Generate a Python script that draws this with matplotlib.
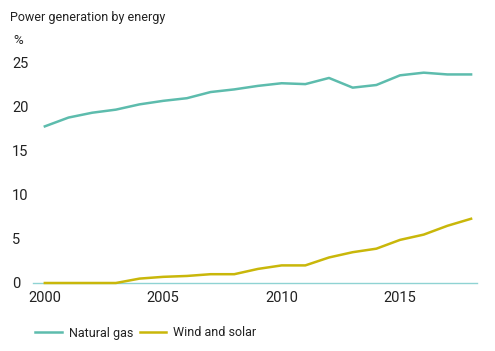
import matplotlib.pyplot as plt
from matplotlib import font_manager

years = list(range(2000, 2019))
natural_gas = [17.8, 18.8, 19.35, 19.7, 20.3, 20.7, 21.0, 21.7, 22.0, 22.4,
               22.7, 22.6, 23.3, 22.2, 22.5, 23.6, 23.9, 23.7, 23.7]
wind_solar = [0.0, 0.0, 0.0, 0.0, 0.5, 0.7, 0.8, 1.0, 1.0, 1.6,
              2.0, 2.0, 2.9, 3.5, 3.9, 4.9, 5.5, 6.5, 7.3]
y_ticks = [0, 5, 10, 15, 20, 25]
x_ticks = [2000, 2005, 2010, 2015]

GAS_COLOR = '#5dbcad'
WIND_COLOR = '#c9b70a'
TEXT_COLOR = '#222222'

names = {f.name for f in font_manager.fontManager.ttflist}
family = 'Liberation Sans Narrow' if 'Liberation Sans Narrow' in names else 'Roboto'
plt.rcParams['font.family'] = [family, 'DejaVu Sans']

fig = plt.figure(figsize=(4.95, 3.51), dpi=100)
ax = fig.add_axes([33 / 495, 1 - 283 / 351, 444 / 495, 220 / 351])

ax.plot(years, natural_gas, color=GAS_COLOR, lw=1.8, label='Natural gas')
ax.plot(years, wind_solar, color=WIND_COLOR, lw=1.8, label='Wind and solar',
        clip_on=False, zorder=3)

ax.set_xlim(1999.5, 2018.25)
ax.set_ylim(0, 25)
ax.set_xticks(x_ticks)
ax.set_yticks(y_ticks)

for side in ['top', 'right', 'left']:
    ax.spines[side].set_visible(False)
ax.spines['bottom'].set_color('#8fd3d3')
ax.spines['bottom'].set_linewidth(1.0)

ax.tick_params(axis='both', length=0, labelsize=10.5, labelcolor=TEXT_COLOR)
ax.tick_params(axis='y', pad=15)
ax.tick_params(axis='x', pad=6)
for lbl in ax.get_yticklabels():
    lbl.set_horizontalalignment('left')

fig.text(10 / 495, 1 - 17 / 351, 'Power generation by energy', fontsize=9,
         color=TEXT_COLOR, va='center', ha='left')
fig.text(13 / 495, 1 - 40 / 351, '%', fontsize=9.5, color=TEXT_COLOR,
         va='center', ha='left')

leg = fig.legend(loc='center left', bbox_to_anchor=(24 / 495, 1 - 333 / 351),
                 ncol=2, frameon=False, fontsize=9, handlelength=2.1,
                 handletextpad=0.6, columnspacing=0.5)
for t in leg.get_texts():
    t.set_color(TEXT_COLOR)

fig.savefig('out.png', dpi=100)
